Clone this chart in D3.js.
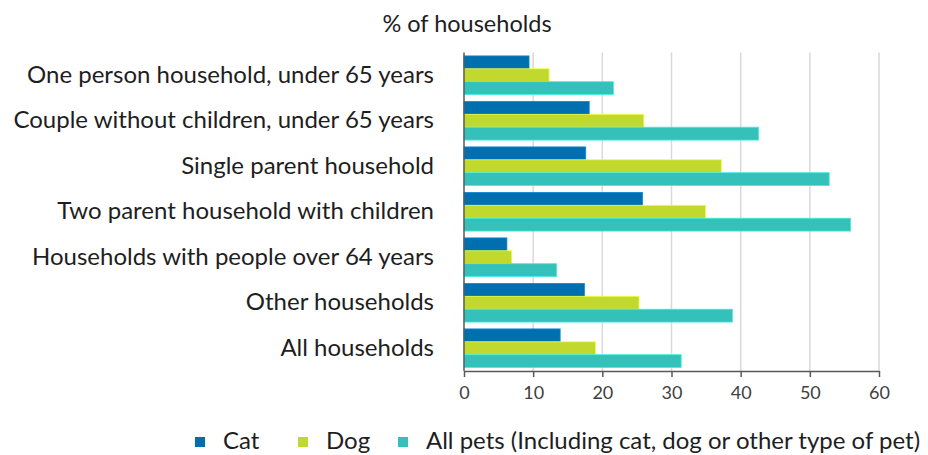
<!DOCTYPE html>
<html>
<head>
<meta charset="utf-8">
<script src="https://cdn.jsdelivr.net/npm/d3@7"></script>
<style>
  body { margin: 0; background: #fff; }
  svg text { font-family: Lato, 'Open Sans', sans-serif; }
</style>
</head>
<body>
<div id="chart"></div>
<script>
var categories = [
  'One person household, under 65 years',
  'Couple without children, under 65 years',
  'Single parent household',
  'Two parent household with children',
  'Households with people over 64 years',
  'Other households',
  'All households'
]
var seriesNames = ['Cat', 'Dog', 'All pets (Including cat, dog or other type of pet)']
var catValues = [9.4, 18.1, 17.6, 25.8, 6.2, 17.4, 13.9]
var dogValues = [12.3, 26.0, 37.2, 34.9, 6.9, 25.3, 19.0]
var allValues = [21.6, 42.6, 52.8, 55.9, 13.4, 38.8, 31.4]
var xTicks = [0, 10, 20, 30, 40, 50, 60]

var COLORS = ['#006fb0', '#c1d82f', '#34c1b9']

var width = 928
var height = 455
var margin = { top: 52.5, left: 464, right: 49, bottom: 84 }

var svg = d3.select('#chart')
  .append('svg')
  .attr('width', width)
  .attr('height', height)

var x = d3.scaleLinear()
  .domain([0, 60])
  .range([margin.left, width - margin.right])

var y = d3.scaleBand()
  .domain(categories)
  .range([margin.top, height - margin.bottom])
  .paddingInner(0.15)
  .paddingOuter(0.075)

var ySub = d3.scaleBand()
  .domain(d3.range(seriesNames.length))
  .range([0, y.bandwidth()])

var rows = categories.map((c, i) => ({
  name: c,
  values: [catValues[i], dogValues[i], allValues[i]]
}))

// gridlines
svg.append('g')
  .selectAll('line')
  .data(xTicks.slice(1))
  .enter()
  .append('line')
  .attr('x1', d => x(d))
  .attr('x2', d => x(d))
  .attr('y1', margin.top)
  .attr('y2', height - margin.bottom)
  .attr('stroke', '#d9d9d9')
  .attr('stroke-width', 1.5)

// bars
var groups = svg.append('g')
  .selectAll('g')
  .data(rows)
  .enter()
  .append('g')
  .attr('transform', d => 'translate(0,' + y(d.name) + ')')

groups.selectAll('rect')
  .data(d => d.values)
  .enter()
  .append('rect')
  .attr('x', x(0))
  .attr('y', (d, i) => ySub(i))
  .attr('width', d => x(d) - x(0))
  .attr('height', ySub.bandwidth())
  .attr('fill', (d, i) => COLORS[i])
  .attr('stroke', (d, i) => d3.color(COLORS[i]).brighter(0.6))
  .attr('stroke-width', 0.8)

// bottom axis
var xAxis = svg.append('g')
  .attr('transform', 'translate(0,' + (height - margin.bottom) + ')')
  .call(d3.axisBottom(x).tickValues(xTicks).tickSize(6).tickSizeOuter(0).tickPadding(9))
xAxis.select('.domain').attr('stroke', '#595959').attr('stroke-width', 1.5)
xAxis.selectAll('.tick line').attr('stroke', '#595959').attr('stroke-width', 1.5)
xAxis.selectAll('.tick text')
  .attr('font-size', 18)
  .attr('fill', '#404040')
  .attr('font-family', 'Lato, sans-serif')

// left axis line
svg.append('line')
  .attr('x1', x(0))
  .attr('x2', x(0))
  .attr('y1', margin.top)
  .attr('y2', height - margin.bottom)
  .attr('stroke', '#595959')
  .attr('stroke-width', 1.5)

// category labels
svg.append('g')
  .selectAll('text')
  .data(categories)
  .enter()
  .append('text')
  .attr('x', 434)
  .attr('y', d => y(d) + y.bandwidth() / 2 + 7.5)
  .attr('text-anchor', 'end')
  .attr('font-size', 24)
  .attr('fill', '#1e1e1e')
  .text(d => d)

// title
svg.append('text')
  .attr('x', 467)
  .attr('y', 31.5)
  .attr('text-anchor', 'middle')
  .attr('font-size', 23.5)
  .attr('fill', '#1e1e1e')
  .text('% of households')

// legend
var legendX = [195, 298, 398]
var legend = svg.append('g')
  .selectAll('g')
  .data(seriesNames)
  .enter()
  .append('g')
  .attr('transform', (d, i) => 'translate(' + legendX[i] + ',437)')

legend.append('rect')
  .attr('width', 10)
  .attr('height', 10)
  .attr('fill', (d, i) => COLORS[i])

legend.append('text')
  .attr('x', 28)
  .attr('y', 12)
  .attr('font-size', 24)
  .attr('fill', '#1e1e1e')
  .text(d => d)
</script>
</body>
</html>
